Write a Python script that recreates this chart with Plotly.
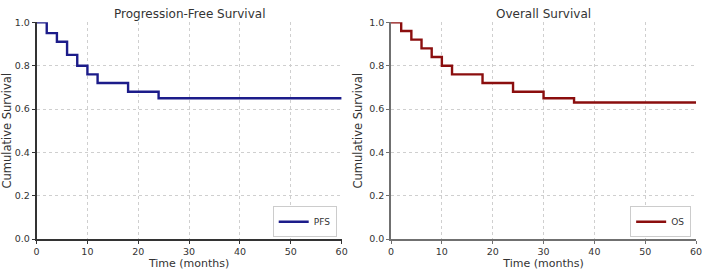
import plotly.graph_objects as go

pfs_t = [0, 2, 4, 6, 8, 10, 12, 18, 24, 60]
pfs_s = [1.0, 0.95, 0.91, 0.85, 0.80, 0.76, 0.72, 0.68, 0.65, 0.65]
os_t = [0, 2, 4, 6, 8, 10, 12, 18, 24, 30, 36, 60]
os_s = [1.0, 0.96, 0.92, 0.88, 0.84, 0.80, 0.76, 0.72, 0.68, 0.65, 0.63, 0.63]
titles = ["Progression-Free Survival", "Overall Survival"]
x_ticks = [0, 10, 20, 30, 40, 50, 60]
y_ticks = [0.0, 0.2, 0.4, 0.6, 0.8, 1.0]
y_labels = ["0.0", "0.2", "0.4", "0.6", "0.8", "1.0"]

FONT = "DejaVu Sans"
W, H = 709, 271
fig = go.Figure()
fig.add_trace(go.Scatter(x=pfs_t, y=pfs_s, mode="lines", line=dict(shape="hv", color="#1c1c8a", width=2.4),
                         name="PFS", xaxis="x", yaxis="y", legend="legend", showlegend=True))
fig.add_trace(go.Scatter(x=os_t, y=os_s, mode="lines", line=dict(shape="hv", color="#8b0e0e", width=2.4),
                         name="OS", xaxis="x2", yaxis="y2", legend="legend2", showlegend=True))

doms = [[34/W, 343/W], [393/W, 702/W]]
ydom = [1 - 243/H, 1 - 17/H]
axcolors = ["#333333", "#707070"]
layout = dict(width=W, height=H, margin=dict(l=0, r=0, t=0, b=0), showlegend=True,
              plot_bgcolor="white", paper_bgcolor="white", font=dict(family=FONT, color="#333333"))
for i in range(2):
    sx = "" if i == 0 else "2"
    common = dict(showline=True, linecolor=axcolors[i], linewidth=1.6, mirror=False,
                  showgrid=True, gridcolor="#cfcfcf", griddash="dot", gridwidth=1,
                  ticks="outside", ticklen=3, tickcolor=axcolors[i],
                  tickfont=dict(family=FONT, size=9.5, color="#333333"), zeroline=False)
    layout["xaxis" + sx] = dict(domain=doms[i], range=[0, 60], tickvals=x_ticks, anchor="y" + sx,
                                title=dict(text="Time (months)", font=dict(family=FONT, size=11, color="#333333"), standoff=2),
                                **common)
    layout["yaxis" + sx] = dict(domain=ydom, range=[0, 1.0], tickvals=y_ticks, ticktext=y_labels, anchor="x" + sx,
                                title=dict(text="Cumulative Survival", font=dict(family=FONT, size=11.5, color="#333333"), standoff=4),
                                **common)
fig.update_layout(**layout)
for i in range(2):
    fig.add_annotation(text=titles[i], x=(doms[i][0] + doms[i][1]) / 2, y=1.0, xref="paper", yref="paper",
                       xanchor="center", yanchor="top", showarrow=False, borderpad=0,
                       font=dict(family=FONT, size=12, color="#333333"))
leg_common = dict(bgcolor="white", bordercolor="#cccccc", borderwidth=1,
                  font=dict(family=FONT, size=9, color="#333333"), xanchor="right", yanchor="bottom",
                  itemwidth=30, tracegroupgap=0)
fig.update_layout(legend=dict(x=338/W, y=1 - 241/H, **leg_common),
                  legend2=dict(x=697/W, y=1 - 241/H, **leg_common))
fig.write_html("out.html")
